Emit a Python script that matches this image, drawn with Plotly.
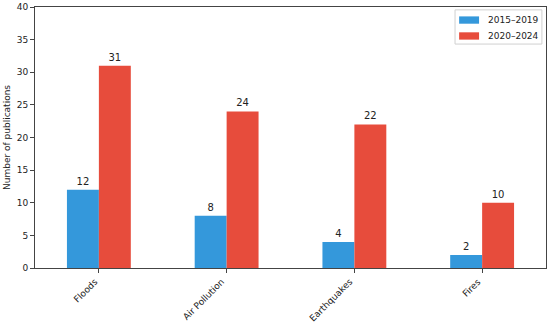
import plotly.graph_objects as go

categories = ["Floods", "Air Pollution", "Earthquakes", "Fires"]
series_names = ["2015–2019", "2020–2024"]
pubs_2015_2019 = [12, 8, 4, 2]
pubs_2020_2024 = [31, 24, 22, 10]

COLORS = ["#3498db", "#e74c3c"]
FONT = "DejaVu Sans"
TEXT = "#222"

fig = go.Figure()

for name, vals, color in zip(series_names, [pubs_2015_2019, pubs_2020_2024], COLORS):
    fig.add_trace(go.Bar(
        x=categories, y=vals, name=name,
        marker=dict(color=color, line=dict(width=0)),
        text=vals, textposition="outside",
        textfont=dict(size=10, color=TEXT), cliponaxis=False,
    ))

# x tick labels, rotated like matplotlib (ha='right')
for cat in categories:
    fig.add_annotation(
        x=cat, y=0, xref="x", yref="paper",
        text=cat, textangle=-45, showarrow=False,
        xanchor="right", yanchor="top", yshift=-6, xshift=3,
        font=dict(size=9, color=TEXT),
    )

# legend drawn by hand so the swatches are wide rectangles
fig.add_shape(type="rect", xref="paper", yref="paper",
              x0=0.822, x1=0.992, y0=0.858, y1=0.989,
              line=dict(color="#d0d0d0", width=1), fillcolor="rgba(255,255,255,0.8)")
for i, (name, color) in enumerate(zip(series_names, COLORS)):
    yc = 0.950 - i * 0.061
    fig.add_shape(type="rect", xref="paper", yref="paper",
                  x0=0.830, x1=0.869, y0=yc - 0.014, y1=yc + 0.014,
                  line=dict(width=0), fillcolor=color)
    fig.add_annotation(x=0.883, y=yc, xref="paper", yref="paper",
                       text=name, showarrow=False, xanchor="left", yanchor="middle",
                       font=dict(size=9, color=TEXT))

axis_style = dict(
    showline=True, linecolor="#444", linewidth=1, mirror=True,
    ticks="outside", ticklen=4, tickcolor="#444",
    showgrid=False, zeroline=False, automargin=False,
    tickfont=dict(size=9, color=TEXT),
)

fig.update_layout(
    width=550, height=324,
    margin=dict(l=35, r=4, t=7, b=56),
    paper_bgcolor="white", plot_bgcolor="white",
    font=dict(family=FONT, size=9, color=TEXT),
    barmode="group", bargap=0.5, bargroupgap=0,
    showlegend=False,
    xaxis=dict(axis_style, showticklabels=False, range=[-0.5, 3.5]),
    yaxis=dict(axis_style, range=[0, 40], dtick=5,
               title=dict(text="Number of publications", font=dict(size=9), standoff=4)),
)

# the page body has a default 8px margin; drop it so the figure fits the window
fig.write_html("out.html", config={"displayModeBar": False},
               post_script="document.body.style.margin='0';")
